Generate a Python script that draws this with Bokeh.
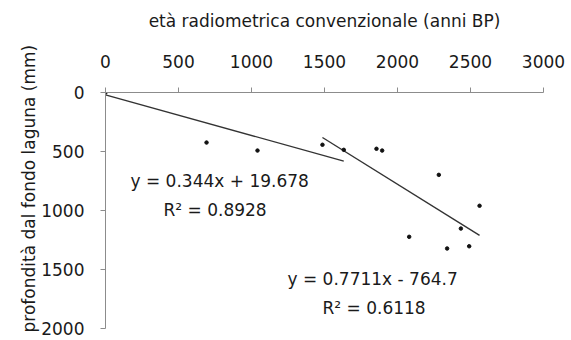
from bokeh.plotting import figure
from bokeh.models import Range1d, Label, FixedTicker, Title
from bokeh.embed import file_html
from bokeh.resources import INLINE
import numpy as np

# data points (age BP, depth mm)
age = [0, 692, 1041, 1486, 1632, 1856, 1895, 2080, 2283, 2340, 2434, 2491, 2562]
depth = [0, 424, 492, 443, 486, 477, 492, 1223, 698, 1322, 1153, 1303, 960]

# regression fits
fit1_slope, fit1_icpt, fit1_range = 0.344, 19.678, [0, 1632]
fit2_slope, fit2_icpt, fit2_range = 0.7711, -764.7, [1486, 2562]
fit1_text = ["y = 0.344x + 19.678", "R² = 0.8928"]
fit2_text = ["y = 0.7711x - 764.7", "R² = 0.6118"]

x_ticks = [0, 500, 1000, 1500, 2000, 2500, 3000]
y_ticks = [0, 500, 1000, 1500, 2000]
x_title = "età radiometrica convenzionale (anni BP)"
y_title = "profondità dal fondo laguna (mm)"

FONT = "DejaVu Sans"
FS = "17px"
AX = "#8c8c8c"
TXT = "#1a1a1a"

p = figure(frame_width=438, frame_height=236, output_backend="svg", toolbar_location=None,
           x_axis_location="above", x_range=Range1d(0, 3000), y_range=Range1d(2000, 0),
           min_border_left=105, min_border_right=28, min_border_top=92, min_border_bottom=12)
p.outline_line_color = None
p.grid.visible = False
p.background_fill_color = "white"

for ax in (p.xaxis[0], p.yaxis[0]):
    ax.axis_line_color = AX
    ax.major_tick_line_color = AX
    ax.minor_tick_line_color = None
    ax.major_tick_in = 0
    ax.major_tick_out = 5
    ax.major_label_text_font = FONT
    ax.major_label_text_font_size = FS
    ax.major_label_text_color = TXT
    ax.axis_label_text_font = FONT
    ax.axis_label_text_font_size = FS
    ax.axis_label_text_font_style = "normal"
    ax.axis_label_text_color = TXT

p.xaxis.ticker = FixedTicker(ticks=x_ticks)
p.yaxis.ticker = FixedTicker(ticks=y_ticks)
p.xaxis.axis_label = x_title
p.xaxis.major_label_standoff = 20
p.yaxis.major_label_standoff = 16
p.xaxis.axis_label_standoff = 21

# y-axis title as a left-side title, starting just below the frame bottom as in the reference
p.add_layout(Title(text=y_title, align="left", offset=-4, text_font=FONT,
                   text_font_size=FS, text_font_style="normal", text_color=TXT,
                   standoff=0), "left")

x1 = np.array(fit1_range, dtype=float)
x2 = np.array(fit2_range, dtype=float)
p.line(x1, fit1_slope * x1 + fit1_icpt, line_color="#333333", line_width=1.4)
p.line(x2, fit2_slope * x2 + fit2_icpt, line_color="#333333", line_width=1.4)
p.scatter(age, depth, size=3.5, color="#111111")

for txt, xs, ys in [(fit1_text[0], 130, 180), (fit1_text[1], 163, 209),
                    (fit2_text[0], 287, 278), (fit2_text[1], 322, 307)]:
    p.add_layout(Label(x=xs - 105, y=328 - ys, x_units="screen", y_units="screen",
                       text=txt, text_font=FONT, text_font_size=FS,
                       text_color=TXT, text_baseline="middle"))

open("out.html", "w").write(file_html(p, INLINE))
